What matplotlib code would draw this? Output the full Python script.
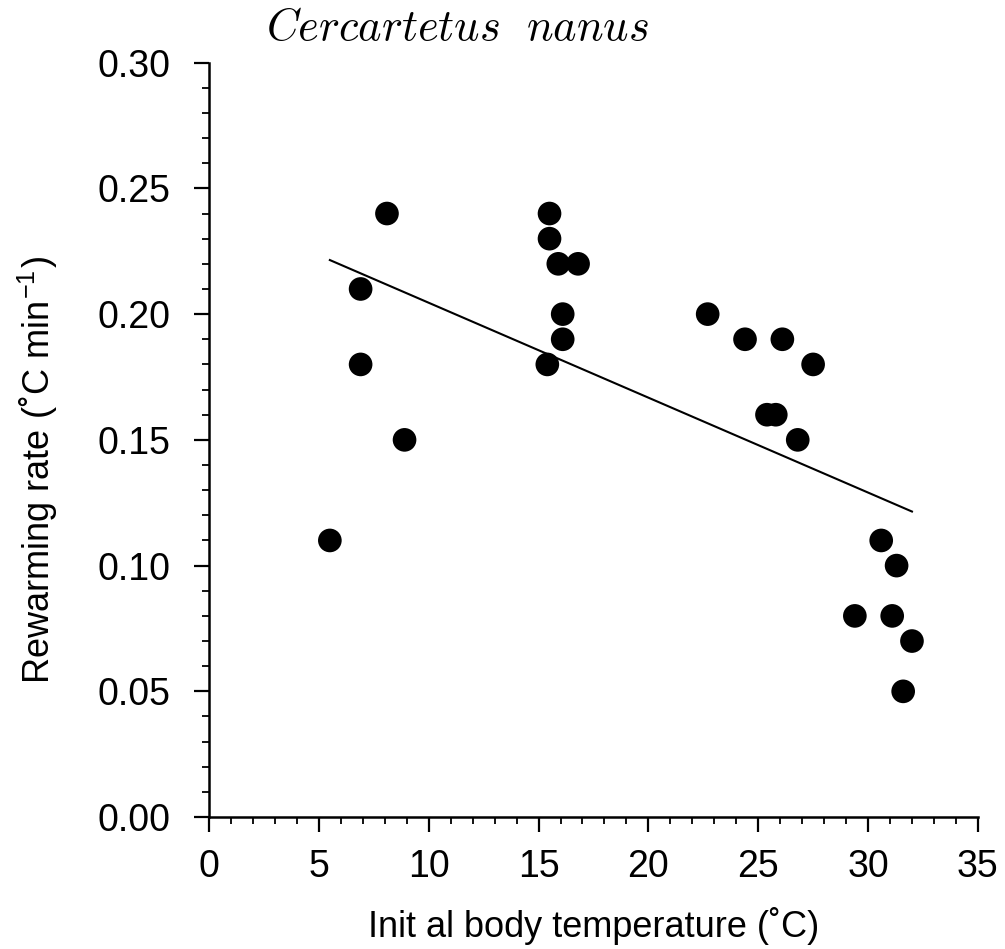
import matplotlib
matplotlib.use("Agg")
import matplotlib.pyplot as plt
from matplotlib.ticker import MultipleLocator

# initial body temperature (°C) and rewarming rate (°C/min)
tb_init = [5.5, 6.9, 6.9, 8.1, 8.9,
           15.5, 15.5, 15.9, 16.8, 16.1, 16.1, 15.4,
           22.7, 24.4, 26.1, 27.5, 25.4, 25.8, 26.8,
           30.6, 31.3, 29.4, 31.1, 32.0, 31.6]
rate = [0.11, 0.21, 0.18, 0.24, 0.15,
        0.24, 0.23, 0.22, 0.22, 0.20, 0.19, 0.18,
        0.20, 0.19, 0.19, 0.18, 0.16, 0.16, 0.15,
        0.11, 0.10, 0.08, 0.08, 0.07, 0.05]

# regression line end points
fit_x = [5.5, 32.0]
fit_y = [0.2215, 0.1215]

plt.rcParams['font.family'] = ['Liberation Sans', 'DejaVu Sans']
plt.rcParams['mathtext.fontset'] = 'cm'

fig = plt.figure(figsize=(10.05, 9.49), dpi=100)
ax = fig.add_axes([0.208, 0.139, 0.765, 0.795])

ax.scatter(tb_init, rate, s=290, color='black', edgecolors='none', zorder=3,
           clip_on=False)
ax.plot(fit_x, fit_y, color='black', lw=1.5, zorder=2)

ax.set_xlim(0, 35)
ax.set_ylim(0, 0.30)
ax.spines['top'].set_visible(False)
ax.spines['right'].set_visible(False)
ax.spines['left'].set_linewidth(1.8)
ax.spines['bottom'].set_linewidth(1.8)

ax.xaxis.set_major_locator(MultipleLocator(5))
ax.xaxis.set_minor_locator(MultipleLocator(1))
ax.yaxis.set_major_locator(MultipleLocator(0.05))
ax.yaxis.set_minor_locator(MultipleLocator(0.01))
ax.set_yticklabels([f'{v:.2f}' for v in ax.get_yticks()])

ax.tick_params(which='major', direction='out', length=11, width=1.6,
               labelsize=27)
ax.tick_params(axis='x', which='major', pad=12)
ax.tick_params(axis='y', which='major', pad=17)
ax.tick_params(which='minor', direction='out', length=5, width=1.3)

ax.set_xlabel('Init al body temperature (˚C)', fontsize=26, labelpad=16)
ax.set_ylabel('Rewarming rate (˚C min$^{\\mathregular{-1}}$)', fontsize=26,
              labelpad=27, y=0.46)

fig.text(0.455, 0.970, r'$Cercartetus\ \ nanus$', fontsize=32,
         ha='center', va='center')

fig.savefig('out.png', dpi=100)
